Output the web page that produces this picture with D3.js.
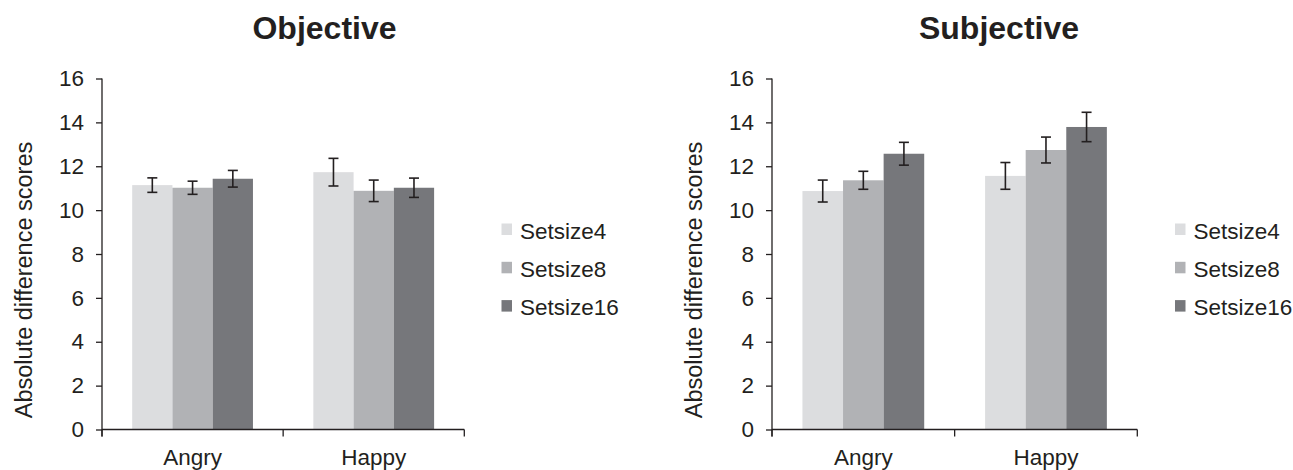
<!DOCTYPE html>
<html>
<head>
<meta charset="utf-8">
<script src="https://cdn.jsdelivr.net/npm/d3@7"></script>
<style>
  body { margin: 0; background: #fff; }
  svg { display: block; }
  text { font-family: "Liberation Sans", Arial, sans-serif; fill: #231f20; }
</style>
</head>
<body>
<svg id="chart" width="1293" height="470"></svg>
<script>
// ---- data ----
const categories = ["Angry", "Happy"];
const seriesNames = ["Setsize4", "Setsize8", "Setsize16"];
const seriesColors = ["#dcdddf", "#b1b2b5", "#76777b"];
const yTicks = [0, 2, 4, 6, 8, 10, 12, 14, 16];

// Objective panel: means and error (half-length) per category, per series
const objSetsize4 = [11.14, 11.73];
const objSetsize8 = [11.02, 10.88];
const objSetsize16 = [11.43, 11.02];
const objErr4 = [0.33, 0.63];
const objErr8 = [0.30, 0.49];
const objErr16 = [0.38, 0.44];

// Subjective panel
const subSetsize4 = [10.87, 11.56];
const subSetsize8 = [11.36, 12.74];
const subSetsize16 = [12.57, 13.79];
const subErr4 = [0.50, 0.61];
const subErr8 = [0.41, 0.59];
const subErr16 = [0.52, 0.67];

const panels = [
  { title: "Objective", values: [objSetsize4, objSetsize8, objSetsize16], errs: [objErr4, objErr8, objErr16],
    x0: 102, x1: 464.3, titleX: 324.5, legendX: 501.5 },
  { title: "Subjective", values: [subSetsize4, subSetsize8, subSetsize16], errs: [subErr4, subErr8, subErr16],
    x0: 772, x1: 1137.3, titleX: 999, legendX: 1175 }
];

const svg = d3.select("#chart");
const ink = "#231f20";
const yBottom = 429.5, yTop = 78.5;

panels.forEach(p => {
  const g = svg.append("g");
  const y = d3.scaleLinear().domain([0, 16]).range([yBottom, yTop]);
  const xBand = d3.scaleBand().domain(categories).range([p.x0, p.x1]).paddingInner(0).paddingOuter(0);
  const bw = xBand.bandwidth();
  const xSeries = d3.scaleBand().domain(seriesNames).range([0, bw * 2 / 3]).padding(0);

  // bars
  categories.forEach((c, ci) => {
    seriesNames.forEach((s, si) => {
      const v = p.values[si][ci];
      const e = p.errs[si][ci];
      const bx = xBand(c) + bw / 6 + xSeries(s);
      g.append("rect")
        .attr("x", bx).attr("y", y(v))
        .attr("width", xSeries.bandwidth()).attr("height", y(0) - y(v))
        .attr("fill", seriesColors[si]);
      const cx = bx + xSeries.bandwidth() / 2;
      g.append("line").attr("x1", cx).attr("x2", cx).attr("y1", y(v + e)).attr("y2", y(v - e))
        .attr("stroke", ink).attr("stroke-width", 1.6);
      [v + e, v - e].forEach(t => {
        g.append("line").attr("x1", cx - 5).attr("x2", cx + 5).attr("y1", y(t)).attr("y2", y(t))
          .attr("stroke", ink).attr("stroke-width", 1.6);
      });
    });
  });

  // y axis
  const yAxis = d3.axisLeft(y).tickValues(yTicks).tickSize(6).tickPadding(12).tickSizeOuter(0);
  const ya = g.append("g").attr("transform", `translate(${p.x0},0)`).call(yAxis);
  ya.select(".domain").remove();
  ya.selectAll(".tick line").attr("stroke", ink).attr("stroke-width", 1.3);
  ya.selectAll(".tick text").attr("font-size", 22.5).attr("font-family", "Liberation Sans, Arial, sans-serif").attr("fill", ink);
  g.append("line").attr("x1", p.x0).attr("x2", p.x0).attr("y1", y(16)).attr("y2", y(0) + 7)
    .attr("stroke", ink).attr("stroke-width", 1.3);

  // x axis
  g.append("line").attr("x1", p.x0).attr("x2", p.x1).attr("y1", y(0)).attr("y2", y(0))
    .attr("stroke", ink).attr("stroke-width", 1.3);
  const xTickPos = [p.x0, xBand(categories[1]), p.x1];
  xTickPos.forEach(xp => {
    g.append("line").attr("x1", xp).attr("x2", xp).attr("y1", y(0)).attr("y2", y(0) + 7)
      .attr("stroke", ink).attr("stroke-width", 1.3);
  });
  categories.forEach(c => {
    g.append("text").attr("x", xBand(c) + bw / 2).attr("y", 465)
      .attr("text-anchor", "middle").attr("font-size", 22.5).text(c);
  });

  // y label
  g.append("text")
    .attr("transform", `translate(${p.x0 - 70},280) rotate(-90)`)
    .attr("text-anchor", "middle").attr("font-size", 23.5)
    .text("Absolute difference scores");

  // title
  g.append("text").attr("x", p.titleX).attr("y", 38.5).attr("text-anchor", "middle")
    .attr("font-size", 32).attr("font-weight", "bold").text(p.title);

  // legend
  seriesNames.forEach((s, si) => {
    const ly = 238.5 + si * 38.3;
    g.append("rect").attr("x", p.legendX).attr("y", ly - 15).attr("width", 10.5).attr("height", 11.5)
      .attr("fill", seriesColors[si]);
    g.append("text").attr("x", p.legendX + 18.5).attr("y", ly).attr("font-size", 22.5).text(s);
  });
});
</script>
</body>
</html>
